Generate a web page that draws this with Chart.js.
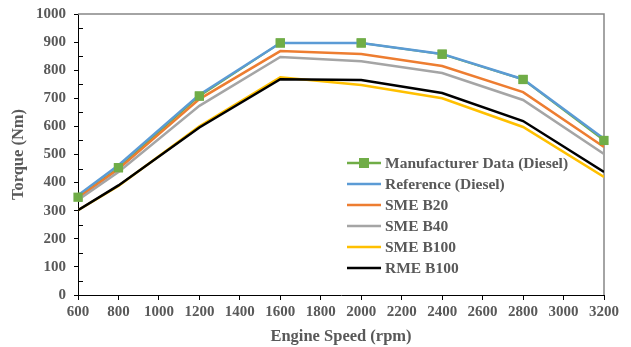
<!DOCTYPE html>
<html>
<head>
<meta charset="utf-8">
<script src="https://cdn.jsdelivr.net/npm/chart.js@4"></script>
<style>
  html, body { margin: 0; padding: 0; background: #fff; }
  #wrap { width: 631px; height: 347px; position: relative; }
</style>
</head>
<body>
<div id="wrap"><canvas id="torqueChart"></canvas></div>
<script>
// engine speed (rpm)
const speeds = [600, 800, 1200, 1600, 2000, 2400, 2800, 3200];

// torque (Nm) per series
const manufacturerData = [348, 453, 708, 897, 897, 857, 767, 550];
const referenceDiesel = [355, 462, 713, 897, 897, 858, 768, 556];
const smeB20 = [345, 448, 697, 868, 858, 815, 722, 527];
const smeB40 = [338, 438, 673, 847, 832, 790, 694, 502];
const smeB100 = [302, 388, 600, 775, 747, 700, 598, 420];
const rmeB100 = [302, 390, 596, 768, 765, 719, 619, 438];

const seriesNames = ['Manufacturer Data (Diesel)', 'Reference (Diesel)', 'SME B20', 'SME B40', 'SME B100', 'RME B100'];
const seriesColors = ['#70ad47', '#5b9bd5', '#ed7d31', '#a5a5a5', '#ffc000', '#000000'];

const xTicks = [600, 800, 1000, 1200, 1400, 1600, 1800, 2000, 2200, 2400, 2600, 2800, 3000, 3200];
const yTicks = [0, 100, 200, 300, 400, 500, 600, 700, 800, 900, 1000];

const FONT = '"Liberation Serif", "Times New Roman", serif';
const TEXT = '#595959';

function pts(vals) {
    return speeds.map((s, i) => ({ x: s, y: vals[i] }));
}

const allSeries = [manufacturerData, referenceDiesel, smeB20, smeB40, smeB100, rmeB100];

// later series drawn on top (lower order = on top in Chart.js)
const datasets = allSeries.map((vals, i) => ({
    label: seriesNames[i],
    data: pts(vals),
    borderColor: seriesColors[i],
    backgroundColor: seriesColors[i],
    borderWidth: i === 0 ? 2 : 2.5,
    pointStyle: 'rect',
    pointRadius: i === 0 ? 6.5 : 0,
    pointBorderWidth: 0,
    pointHoverRadius: 0,
    tension: 0,
    fill: false,
    order: allSeries.length - i
}));

// frame, minor y ticks, green markers on top and the legend inside the plot
const extras = {
    id: 'extras',
    beforeDatasetsDraw(chart) {
        const ctx = chart.ctx;
        const a = chart.chartArea;
        const y = chart.scales.y;
        ctx.save();
        ctx.strokeStyle = '#868686';
        ctx.lineWidth = 1.5;
        ctx.beginPath();
        ctx.moveTo(a.left, a.top);
        ctx.lineTo(a.right, a.top);
        ctx.lineTo(a.right, a.bottom);
        ctx.stroke();
        ctx.strokeStyle = '#000';
        ctx.lineWidth = 1;
        for (let v = 50; v < 1000; v += 100) {
            const py = Math.round(y.getPixelForValue(v)) + 0.5;
            ctx.beginPath();
            ctx.moveTo(a.left, py);
            ctx.lineTo(a.left + 5, py);
            ctx.stroke();
        }
        ctx.restore();
    },
    afterDatasetsDraw(chart) {
        const ctx = chart.ctx;
        ctx.save();
        chart.getDatasetMeta(0).data.forEach(p => p.draw(ctx, chart.chartArea));
        ctx.restore();
    },
    afterDraw(chart) {
        const ctx = chart.ctx;
        ctx.save();
        ctx.font = 'bold 15.5px ' + FONT;
        ctx.textBaseline = 'middle';
        chart.data.datasets.forEach((ds, i) => {
            const ly = 163 + i * 21;
            ctx.strokeStyle = ds.borderColor;
            ctx.lineWidth = 2.5;
            ctx.beginPath();
            ctx.moveTo(347, ly);
            ctx.lineTo(381, ly);
            ctx.stroke();
            if (i === 0) {
                ctx.fillStyle = ds.borderColor;
                ctx.fillRect(359, ly - 5, 10, 10);
            }
            ctx.fillStyle = TEXT;
            ctx.fillText(ds.label, 385, ly + 1);
        });
        ctx.restore();
    }
};

new Chart(document.getElementById('torqueChart'), {
    type: 'line',
    data: { datasets: datasets },
    options: {
        responsive: true,
        maintainAspectRatio: false,
        animation: false,
        layout: { padding: { top: 14, right: 27, left: 0, bottom: 0 } },
        plugins: {
            legend: { display: false },
            tooltip: { enabled: false }
        },
        scales: {
            x: {
                type: 'linear',
                min: 600,
                max: 3200,
                afterBuildTicks(s) { s.ticks = xTicks.map(v => ({ value: v })); },
                afterFit(s) { s.height = 52; s.paddingLeft = 0; s.paddingRight = 0; },
                grid: { drawOnChartArea: false, color: '#000', tickLength: 5, tickColor: '#000' },
                border: { color: '#000', width: 1 },
                ticks: {
                    color: TEXT, font: { family: FONT, size: 15, weight: 'bold' },
                    maxRotation: 0, autoSkip: false, padding: 3,
                    callback: v => String(v)
                },
                title: { display: true, text: 'Engine Speed (rpm)', color: TEXT, font: { family: FONT, size: 16.5, weight: 'bold' }, padding: { top: 0, bottom: 0 } }
            },
            y: {
                min: 0,
                max: 1000,
                afterBuildTicks(s) { s.ticks = yTicks.map(v => ({ value: v })); },
                afterFit(s) { s.width = 78; s.paddingTop = 0; s.paddingBottom = 0; },
                grid: { drawOnChartArea: false, color: '#000', tickLength: 4, tickColor: '#000' },
                border: { color: '#000', width: 1 },
                ticks: {
                    color: TEXT, font: { family: FONT, size: 15, weight: 'bold' }, padding: 8,
                    callback: v => String(v)
                },
                title: { display: true, text: 'Torque (Nm)', color: TEXT, font: { family: FONT, size: 16.5, weight: 'bold' }, padding: { top: 9, bottom: 0 } }
            }
        }
    },
    plugins: [extras]
});
</script>
</body>
</html>
